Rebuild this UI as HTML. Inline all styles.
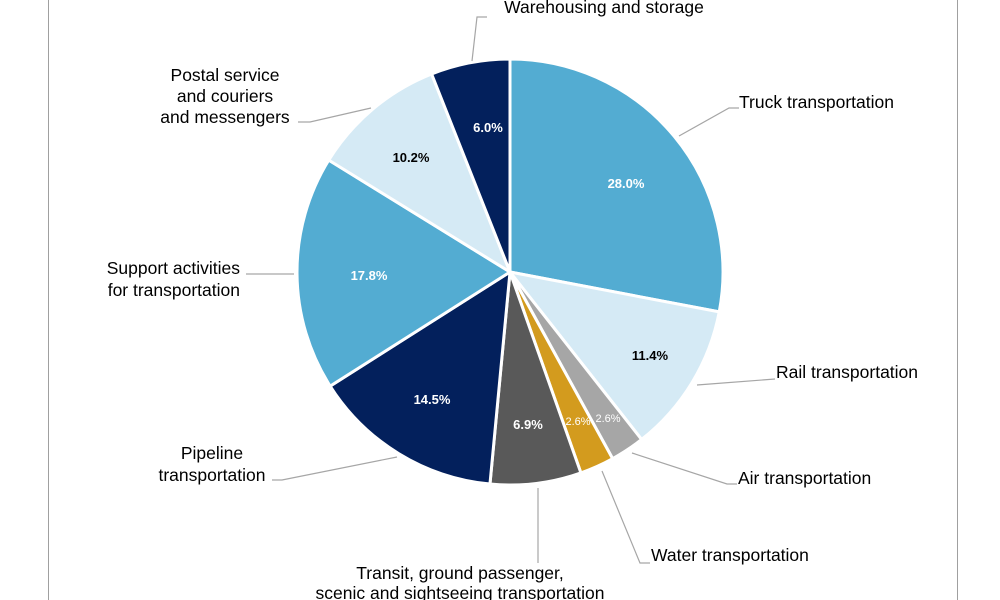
<!DOCTYPE html>
<html><head><meta charset="utf-8"><style>
html,body{margin:0;padding:0;background:#fff;width:1000px;height:600px;overflow:hidden}
svg text{font-family:"Liberation Sans",Arial,sans-serif}
</style></head><body>
<svg id="s" width="1000" height="600" viewBox="0 0 1000 600" xmlns="http://www.w3.org/2000/svg">
<line x1="48.5" y1="0" x2="48.5" y2="600" stroke="#a0a0a0" stroke-width="1"/>
<line x1="957.5" y1="0" x2="957.5" y2="600" stroke="#a0a0a0" stroke-width="1"/>
<g id="pie"></g>
<g stroke="#a6a6a6" stroke-width="1.2" fill="none">
<polyline points="472,61 477,17 487,17"/>
<polyline points="679,136 729,108 739,108"/>
<polyline points="697,385 775,379"/>
<polyline points="632,453 727,484 737,484"/>
<polyline points="602,471 640,563 650,563"/>
<polyline points="538,488 538,563"/>
<polyline points="397,457 282,480 272,480"/>
<polyline points="294,274 246,274"/>
<polyline points="371,108 310,122 298,122"/>
</g>
<g font-size="17.5" fill="#000">
<text x="604" y="13" text-anchor="middle">Warehousing and storage</text>
<text x="739" y="108">Truck transportation</text>
<text x="776" y="378">Rail transportation</text>
<text x="738" y="484">Air transportation</text>
<text x="651" y="561">Water transportation</text>
<text x="460" y="579" text-anchor="middle">Transit, ground passenger,</text>
<text x="460" y="599" text-anchor="middle">scenic and sightseeing transportation</text>
<text x="212" y="459" text-anchor="middle">Pipeline</text>
<text x="212" y="481" text-anchor="middle">transportation</text>
<text x="240" y="274" text-anchor="end">Support activities</text>
<text x="240" y="296" text-anchor="end">for transportation</text>
<text x="225" y="81" text-anchor="middle">Postal service</text>
<text x="225" y="102" text-anchor="middle">and couriers</text>
<text x="225" y="123" text-anchor="middle">and messengers</text>
</g>
<g font-size="13" font-weight="bold" text-anchor="middle">
<text x="626" y="188" fill="#fff">28.0%</text>
<text x="650" y="360" fill="#000">11.4%</text>
<text x="608" y="422" fill="#fff" font-size="11" font-weight="normal">2.6%</text>
<text x="578" y="425" fill="#fff" font-size="11" font-weight="normal">2.6%</text>
<text x="528" y="429" fill="#fff">6.9%</text>
<text x="432" y="404" fill="#fff">14.5%</text>
<text x="369" y="280" fill="#fff">17.8%</text>
<text x="411" y="162" fill="#000">10.2%</text>
<text x="488" y="132" fill="#fff">6.0%</text>
</g>
</svg>
<script>
(function(){
var cx=510,cy=272,r=213;
var d=[[28.0,"#53acd2"],[11.4,"#d5eaf5"],[2.6,"#a6a6a6"],[2.6,"#d39b1e"],[6.9,"#595959"],[14.5,"#03205c"],[17.8,"#53acd2"],[10.2,"#d5eaf5"],[6.0,"#03205c"]];
var g=document.getElementById("pie"),a=0,h="";
d.forEach(function(s){
 var a0=a*3.6*Math.PI/180;a+=s[0];var a1=a*3.6*Math.PI/180;
 var x0=cx+r*Math.sin(a0),y0=cy-r*Math.cos(a0),x1=cx+r*Math.sin(a1),y1=cy-r*Math.cos(a1);
 var big=(a1-a0)>Math.PI?1:0;
 h+='<path d="M'+cx+','+cy+' L'+x0.toFixed(2)+','+y0.toFixed(2)+' A'+r+','+r+' 0 '+big+' 1 '+x1.toFixed(2)+','+y1.toFixed(2)+' Z" fill="'+s[1]+'" stroke="#fff" stroke-width="3" stroke-linejoin="round"/>';
});
g.innerHTML=h;
})();
</script>
</body></html>
